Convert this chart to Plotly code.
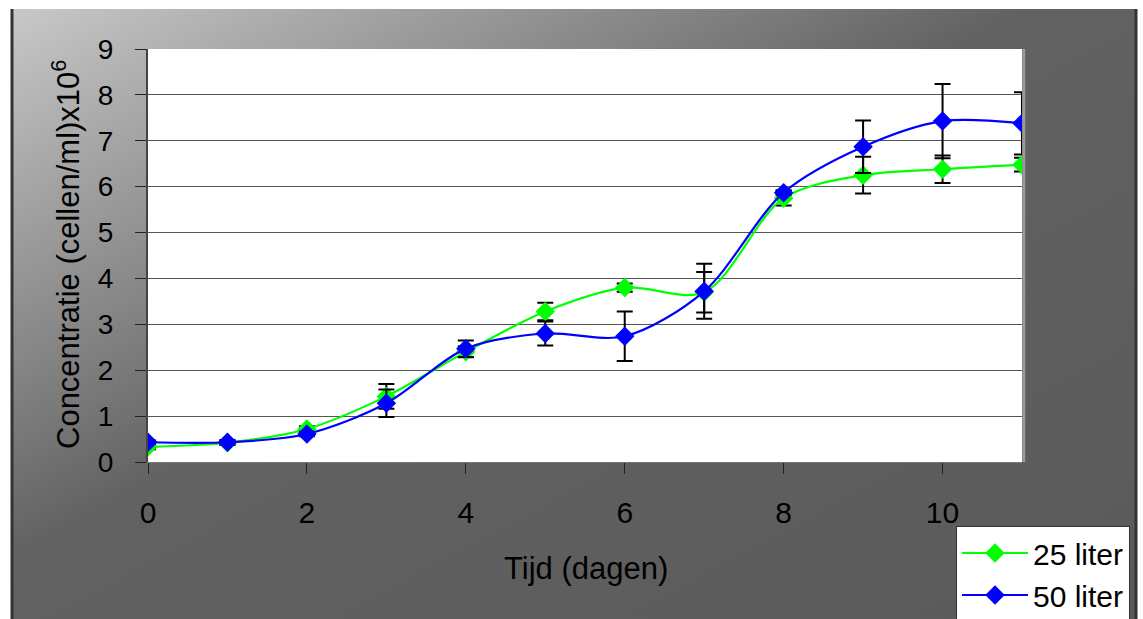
import base64
import plotly.graph_objects as go

# ---- data ----
days = [0, 1, 2, 3, 4, 5, 6, 7, 8, 9, 10, 11]
conc_25 = [0.33, 0.42, 0.72, 1.43, 2.40, 3.28, 3.80, 3.70, 5.75, 6.25, 6.38, 6.48]
err_25 = [0.05, 0.05, 0.06, 0.27, 0.12, 0.19, 0.09, 0.44, 0.16, 0.40, 0.30, 0.15]
conc_50 = [0.43, 0.43, 0.61, 1.28, 2.47, 2.80, 2.74, 3.72, 5.87, 6.87, 7.43, 7.38]
err_50 = [0.04, 0.05, 0.05, 0.30, 0.18, 0.26, 0.54, 0.60, 0.05, 0.57, 0.81, 0.68]
series_names = ["25 liter", "50 liter"]
x_ticks = [0, 2, 4, 6, 8, 10]
y_ticks = [0, 1, 2, 3, 4, 5, 6, 7, 8, 9]

W, H = 1143, 619
L, R, T, B = 148, 1022, 49, 462
pw, ph = R - L, B - T

def px_x(p):
    return (p - L) / pw

def px_y(p):
    return (B - p) / ph

svg = (
    '<svg xmlns="http://www.w3.org/2000/svg" width="100" height="100" preserveAspectRatio="none">'
    '<defs><linearGradient id="g" x1="0" y1="0" x2="1" y2="1">'
    '<stop offset="0" stop-color="#c8c8c8"/>'
    '<stop offset="0.45" stop-color="#626262"/>'
    '<stop offset="1" stop-color="#5a5a5a"/>'
    '</linearGradient></defs>'
    '<rect x="0" y="0" width="100" height="100" fill="url(#g)"/></svg>'
)
svg_uri = "data:image/svg+xml;base64," + base64.b64encode(svg.encode()).decode()

fig = go.Figure()
fig.add_trace(go.Scatter(
    x=days, y=conc_25, name=series_names[0], mode="lines+markers",
    line=dict(color="#00ff00", width=2.2, shape="spline", smoothing=0.9),
    marker=dict(symbol="diamond", size=15, color="#00ff00"),
    error_y=dict(type="data", array=err_25, visible=True, color="black", thickness=2, width=8),
))
fig.add_trace(go.Scatter(
    x=days, y=conc_50, name=series_names[1], mode="lines+markers",
    line=dict(color="#0000ff", width=2.2, shape="spline", smoothing=0.9),
    marker=dict(symbol="diamond", size=15, color="#0000ff"),
    error_y=dict(type="data", array=err_50, visible=True, color="black", thickness=2, width=8),
))

fig.update_layout(
    width=W, height=H,
    margin=dict(l=L, r=W - R, t=T, b=H - B, autoexpand=False),
    paper_bgcolor="white",
    plot_bgcolor="white",
    font=dict(family="Liberation Sans, Arial, sans-serif", color="black"),
    showlegend=True,
    legend=dict(
        x=px_x(956), y=px_y(526), xanchor="left", yanchor="top",
        bgcolor="white", bordercolor="#333333", borderwidth=1,
        font=dict(size=30), tracegroupgap=0, itemwidth=66,
    ),
    images=[dict(
        source=svg_uri, xref="paper", yref="paper",
        x=px_x(11), y=px_y(9), sizex=(1137 - 11) / pw, sizey=(619 - 9) / ph,
        xanchor="left", yanchor="top", sizing="stretch", layer="below",
    )],
    shapes=[
        dict(type="line", xref="paper", yref="paper",
             x0=px_x(12), x1=px_x(12), y0=px_y(619), y1=px_y(9),
             line=dict(color="#333333", width=3), layer="below"),
        dict(type="line", xref="paper", yref="paper",
             x0=px_x(1136), x1=px_x(1136), y0=px_y(619), y1=px_y(9),
             line=dict(color="#333333", width=3), layer="below"),
        dict(type="rect", xref="paper", yref="paper",
             x0=0, x1=1, y0=0, y1=1,
             fillcolor="white", line=dict(width=0), layer="below"),
        dict(type="line", xref="paper", yref="paper",
             x0=1.002, x1=1.002, y0=0, y1=1,
             line=dict(color="#9a9a9a", width=3), layer="below"),
    ],
    annotations=[
        dict(text="Tijd (dagen)", xref="paper", yref="paper",
             x=px_x(586), y=px_y(568), showarrow=False,
             font=dict(size=31), xanchor="center", yanchor="middle"),
        dict(text="Concentratie (cellen/ml)x10<sup>6</sup>", xref="paper", yref="paper",
             x=px_x(66), y=px_y(255), showarrow=False, textangle=-90,
             font=dict(size=31), xanchor="center", yanchor="middle"),
    ],
)

fig.update_xaxes(
    range=[0, 11], tickvals=x_ticks, ticktext=[str(v) for v in x_ticks],
    ticks="outside", ticklen=11, tickcolor="#222222", tickwidth=1,
    showline=True, linecolor="#777777", linewidth=1,
    showgrid=False, zeroline=False, tickfont=dict(size=30),
    ticklabelstandoff=13, automargin=False,
)
fig.update_yaxes(
    range=[0, 9], tickvals=y_ticks, ticktext=[str(v) for v in y_ticks],
    ticks="outside", ticklen=11, tickcolor="#222222", tickwidth=1,
    showline=True, linecolor="#444444", linewidth=2,
    showgrid=True, gridcolor="#555555", gridwidth=1, zeroline=False,
    tickfont=dict(size=28), ticklabelstandoff=16, automargin=False,
)

fig.write_html(
    "out.html",
    config={"displayModeBar": False},
    post_script="document.body.style.margin='0';document.body.style.overflow='hidden';",
)
